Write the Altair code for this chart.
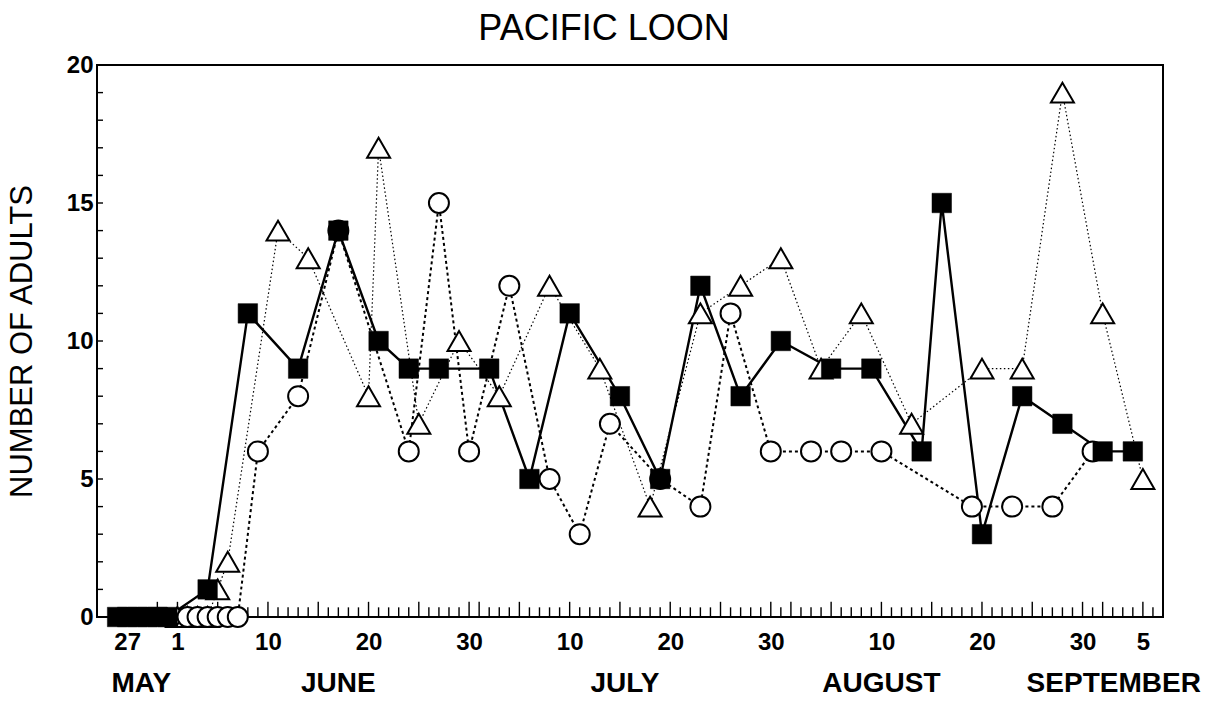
import altair as alt
import pandas as pd

# Day index along the season: 0 = 27 May, 5 = 1 June, 35 = 1 July,
# 66 = 1 August, 97 = 1 September.
square_days = [-1, 0, 1, 2, 3, 4, 8, 12, 17, 21, 25, 28, 31, 36, 40, 44, 49, 53,
               57, 61, 65, 70, 74, 79, 81, 85, 89, 93, 97, 100]
square_vals = [0, 0, 0, 0, 0, 0, 1, 11, 9, 14, 10, 9, 9, 9, 5, 11, 8, 5,
               12, 8, 10, 9, 9, 6, 15, 3, 8, 7, 6, 6]

circle_days = [6, 7, 8, 9, 10, 11, 13, 17, 21, 28, 31, 34, 38, 42, 45, 48, 53,
               57, 60, 64, 68, 71, 75, 84, 88, 92, 96]
circle_vals = [0, 0, 0, 0, 0, 0, 6, 8, 14, 6, 15, 6, 12, 5, 3, 7, 5,
               4, 11, 6, 6, 6, 6, 4, 4, 4, 6]

triangle_days = [5, 6, 7, 8, 9, 10, 15, 18, 24, 25, 29, 33, 37, 42, 47, 52, 57,
                 61, 65, 69, 73, 78, 85, 89, 93, 97, 101]
triangle_vals = [0, 0, 0, 0, 1, 2, 14, 13, 8, 17, 7, 10, 8, 12, 9, 4, 11,
                 12, 13, 9, 11, 7, 9, 9, 19, 11, 5]

# Axis labelling
tick_days = [0, 5, 14, 24, 34, 44, 54, 64, 75, 85, 95, 101]
tick_labels = ["27", "1", "10", "20", "30", "10", "20", "30", "10", "20", "30", "5"]
month_names = ["MAY", "JUNE", "JULY", "AUGUST", "SEPTEMBER"]
month_centers = [1.4, 21, 49.5, 75, 98.1]
y_labels = [0, 5, 10, 15, 20]

FONT = "Liberation Sans"
W, H = 1066, 552
X_DOMAIN = [-3, 103]
Y_DOMAIN = [0, 20]

label_expr = "".join(
    f"datum.value == {d} ? '{t}' : " for d, t in zip(tick_days, tick_labels)
) + "''"

x_scale = alt.Scale(domain=X_DOMAIN, nice=False, zero=False)
y_scale = alt.Scale(domain=Y_DOMAIN, nice=False, zero=False)

x_axis = alt.Axis(values=tick_days, labelExpr=label_expr, ticks=False, domain=False,
                  grid=False, labelFont=FONT, labelFontSize=24, labelFontWeight="bold",
                  labelColor="black", labelPadding=13, labelFlush=False,
                  labelOverlap=False, title=None)
y_axis = alt.Axis(values=y_labels, ticks=False, domain=False, grid=False,
                  labelFont=FONT, labelFontSize=24, labelFontWeight="bold",
                  labelColor="black", labelPadding=4,
                  title="NUMBER OF ADULTS", titleFont=FONT, titleFontSize=31,
                  titleFontWeight="normal", titleColor="black", titleAngle=270,
                  titleX=-75, titleY=H / 2, titleAlign="center", titleBaseline="middle")

X = alt.X("day:Q", scale=x_scale, axis=x_axis)
Y = alt.Y("adults:Q", scale=y_scale, axis=y_axis)


def frame(days, vals):
    return pd.DataFrame({"day": days, "adults": vals})


sq = frame(square_days, square_vals)
ci = frame(circle_days, circle_vals)
tr = frame(triangle_days, triangle_vals)

# Inward day ticks along the bottom edge; longer on the 1st, 5th, 10th ... of each month
month_lengths = [("May", 31, 27), ("Jun", 30, 1), ("Jul", 31, 1), ("Aug", 31, 1), ("Sep", 30, 1)]
tick_rows = []
d = 0
for _, length, first in month_lengths:
    for dom in range(first, length + 1):
        tick_rows.append({"day": d, "dom": dom})
        d += 1
ticks = pd.DataFrame(tick_rows)
ticks = ticks[(ticks.day > X_DOMAIN[0]) & (ticks.day < X_DOMAIN[1])].copy()
ticks["adults"] = 0.0
ticks["top"] = [0.55 if (dom == 1 or dom % 5 == 0) else 0.35 for dom in ticks.dom]

x_ticks = alt.Chart(ticks).mark_rule(color="black", strokeWidth=1.4).encode(
    x=X, y=Y, y2="top:Q")

y_tick_df = pd.DataFrame({"adults": list(range(1, 20))})
y_ticks = alt.Chart(y_tick_df).mark_rule(color="black", strokeWidth=1.4).encode(
    y=Y, x=alt.value(0), x2=alt.value(6))

line_sq = alt.Chart(sq).mark_line(color="black", strokeWidth=2.4).encode(x=X, y=Y)
line_ci = alt.Chart(ci).mark_line(color="black", strokeWidth=2,
                                  strokeDash=[3, 3]).encode(x=X, y=Y)
line_tr = alt.Chart(tr).mark_line(color="black", strokeWidth=1.2,
                                  strokeDash=[1.5, 2.5]).encode(x=X, y=Y)

pt_tr = alt.Chart(tr).mark_point(shape="triangle-up", size=529, filled=True,
                                 fill="white", stroke="black", strokeWidth=2,
                                 opacity=1).encode(x=X, y=Y)
pt_ci = alt.Chart(ci).mark_point(shape="circle", size=400, filled=True,
                                 fill="white", stroke="black", strokeWidth=2,
                                 opacity=1).encode(x=X, y=Y)
pt_sq = alt.Chart(sq).mark_point(shape="square", size=380, filled=True,
                                 fill="black", stroke="black", strokeWidth=0.5,
                                 opacity=1).encode(x=X, y=Y)

months = alt.Chart(pd.DataFrame({"day": month_centers, "name": month_names})).mark_text(
    font=FONT, fontSize=28, fontWeight="bold", color="black", baseline="middle",
    align="center"
).encode(x=X, y=alt.value(H + 67), text="name:N")

chart = alt.layer(
    x_ticks, y_ticks, line_tr, line_ci, line_sq, pt_tr, pt_ci, pt_sq, months
).properties(
    width=W, height=H,
    background="white",
    title=alt.TitleParams("PACIFIC LOON", font=FONT, fontSize=36, fontWeight="normal",
                          color="black", anchor="middle", dx=-26, dy=45, offset=22,
                          baseline="alphabetic"),
    autosize=alt.AutoSizeParams(type="none"),
    padding={"left": 97, "top": 65, "right": 60, "bottom": 87},
).configure_view(stroke="black", strokeWidth=2)

chart.save("out.html", embed_options={"renderer": "svg", "actions": False})
